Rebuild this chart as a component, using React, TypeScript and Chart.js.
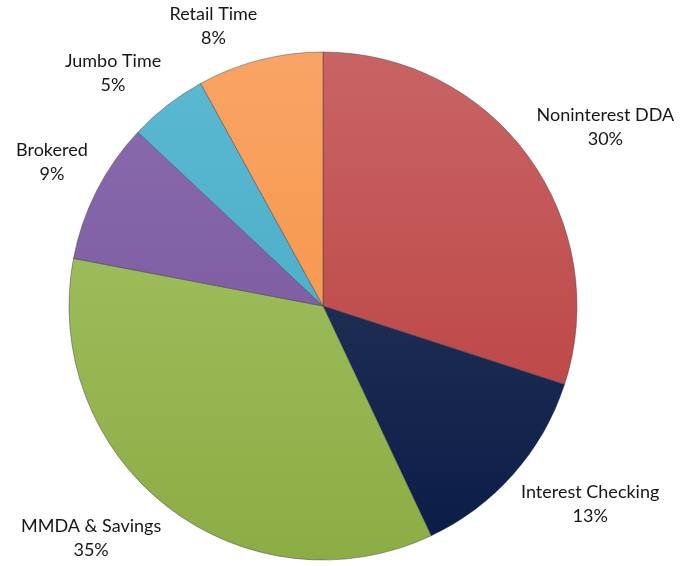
import React, { useEffect, useRef } from "react";
import { Chart, registerables } from "chart.js";

Chart.register(...registerables);

const categories = [
  "Noninterest DDA",
  "Interest Checking",
  "MMDA & Savings",
  "Brokered",
  "Jumbo Time",
  "Retail Time",
];
const shares = [30, 13, 35, 9, 5, 8];
const lightColors = ["#c96464", "#2f3e5e", "#a7c56a", "#8b6dac", "#5cb9d2", "#f9a465"];
const darkColors = ["#b83b3b", "#0a1b47", "#8cad44", "#74509e", "#40a6c3", "#f58e3a"];

const W = 683;
const H = 566;
const PIE_R = 254;
const FONT = "18px Lato, 'Open Sans', sans-serif";
const LINE_H = 24;

const labelPlugin = {
  id: "outsideLabels",
  afterDatasetsDraw(chart: any) {
    const ctx = chart.ctx;
    const meta = chart.getDatasetMeta(0);
    const data = chart.data.datasets[0].data as number[];
    const total = data.reduce((a, b) => a + b, 0);
    ctx.save();
    ctx.font = FONT;
    ctx.fillStyle = "#161616";
    ctx.textAlign = "center";
    ctx.textBaseline = "middle";
    meta.data.forEach((arc: any, i: number) => {
      const { x, y, startAngle, endAngle, outerRadius } = arc.getProps(
        ["x", "y", "startAngle", "endAngle", "outerRadius"],
        true
      );
      const a = (startAngle + endAngle) / 2;
      const g = 10;
      const px = x + (outerRadius + g) * Math.cos(a);
      const py = y + (outerRadius + g) * Math.sin(a);
      const line1 = categories[i];
      const line2 = Math.round((data[i] / total) * 100) + "%";
      const w = Math.max(ctx.measureText(line1).width, ctx.measureText(line2).width);
      const h = LINE_H * 2;
      let cx = px + Math.sign(Math.cos(a)) * (w / 2);
      let cy = py + Math.sign(Math.sin(a)) * (h / 2);
      cx = Math.min(Math.max(cx, w / 2 + 1), chart.width - w / 2 - 1);
      cy = Math.min(Math.max(cy, h / 2 + 1), chart.height - h / 2 - 1);
      ctx.fillText(line1, cx, cy - LINE_H / 2);
      ctx.fillText(line2, cx, cy + LINE_H / 2);
    });
    ctx.restore();
  },
};

export default function App() {
  const ref = useRef<HTMLCanvasElement | null>(null);
  useEffect(() => {
    if (!ref.current) return;
    const chart = new Chart(ref.current, {
      type: "pie",
      data: {
        labels: categories,
        datasets: [
          {
            data: shares,
            backgroundColor: (c: any) => {
              const area = c.chart.chartArea;
              const i = c.dataIndex ?? 0;
              if (!area || !isFinite(area.top) || !isFinite(area.bottom)) return lightColors[i];
              const cy = (area.top + area.bottom) / 2;
              const grad = c.chart.ctx.createLinearGradient(0, cy - PIE_R, 0, cy + PIE_R);
              grad.addColorStop(0, lightColors[i]);
              grad.addColorStop(1, darkColors[i]);
              return grad;
            },
            borderColor: "rgba(60,60,70,0.45)",
            borderWidth: 1,
            hoverOffset: 0,
          },
        ],
      },
      options: {
        responsive: false,
        animation: false,
        radius: PIE_R,
        layout: { padding: { left: 0, right: 37, top: 46, bottom: 0 } },
        plugins: {
          legend: { display: false },
          tooltip: { enabled: false },
          title: { display: false },
        },
      } as any,
      plugins: [labelPlugin],
    });
    return () => chart.destroy();
  }, []);
  return (
    <div style={{ position: "absolute", left: 0, top: 0, width: W, height: H, background: "#fff" }}>
      <canvas ref={ref} width={W} height={H} style={{ display: "block" }} />
    </div>
  );
}
